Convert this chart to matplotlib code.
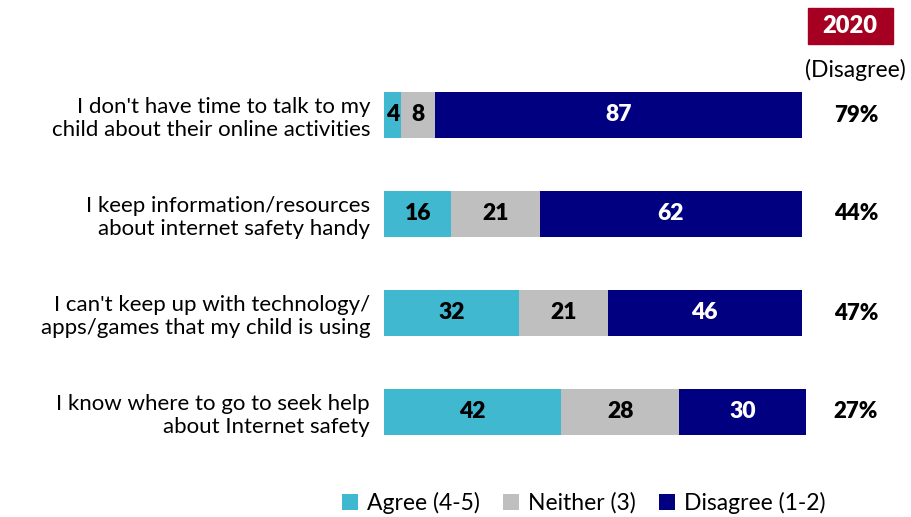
import numpy as np
import matplotlib.pyplot as plt
from matplotlib.patches import Rectangle

plt.rcParams['font.family'] = ['Lato', 'DejaVu Sans']

# 数据
labels = ["I don't have time to talk to my\nchild about their online activities",
          "I keep information/resources\nabout internet safety handy",
          "I can't keep up with technology/\napps/games that my child is using",
          "I know where to go to seek help\nabout Internet safety"]
agree = [4, 16, 32, 42]
neither = [8, 21, 21, 28]
disagree = [87, 62, 46, 30]
disagree_2020 = ['79%', '44%', '47%', '27%']
series_names = ['Agree (4-5)', 'Neither (3)', 'Disagree (1-2)']
colors = ['#3FB8D0', '#BFBFBF', '#000080']

fig = plt.figure(figsize=(9.12, 5.17), dpi=100)
ax = fig.add_axes([0.421, 0.1074, 0.4627, 0.766])

y = np.arange(len(labels))
left = np.zeros(len(labels))
for vals, name, c in zip([agree, neither, disagree], series_names, colors):
    vals = np.array(vals)
    ax.barh(y, vals, left=left, height=0.47, color=c, label=name)
    txt_color = 'white' if c == '#000080' else 'black'
    for i, v in enumerate(vals):
        ax.text(left[i] + v / 2, y[i], str(v), ha='center', va='center',
                fontsize=16.5, fontweight='heavy', color=txt_color)
    left = left + vals

ax.set_xlim(0, 100)
ax.set_ylim(3.5, -0.5)
ax.set_yticks(y)
ax.set_yticklabels(labels, fontsize=16, linespacing=1.2)
ax.tick_params(axis='y', length=0, pad=10)
ax.set_xticks([])
for s in ax.spines.values():
    s.set_visible(False)

# 右侧2020数据
for i, t in enumerate(disagree_2020):
    fig.text(856 / 912, 1 - (y[i] * 99 + 115) / 517, t, ha='center', va='center',
             fontsize=16, fontweight='heavy')
fig.patches.append(Rectangle((808 / 912, 1 - 44 / 517), 85 / 912, 36 / 517,
                             transform=fig.transFigure, color='#A50021'))
fig.text(850 / 912, 1 - 26 / 517, '2020', ha='center', va='center',
         fontsize=17, fontweight='heavy', color='white')
fig.text(855 / 912, 1 - 70 / 517, '(Disagree)', ha='center', va='center', fontsize=16.5)

fig.legend(loc='center', bbox_to_anchor=(584 / 912, 1 - 503 / 517), ncol=3,
           frameon=False, fontsize=16.5, handlelength=0.7, handleheight=0.7,
           columnspacing=1.0, handletextpad=0.4)

plt.savefig('out.png', dpi=100)
